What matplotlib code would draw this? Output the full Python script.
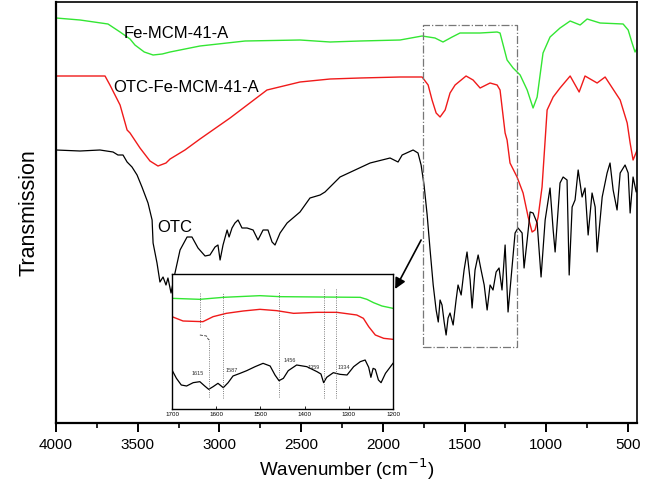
import matplotlib
matplotlib.use("Agg")
import matplotlib.pyplot as plt
from matplotlib.ticker import MultipleLocator

plt.rcParams['font.family'] = ['Liberation Sans', 'DejaVu Sans']

# ---------------- main spectra ----------------
fe_wn = [4000, 3853, 3682, 3608, 3547, 3517, 3460, 3406, 3350, 3302, 3119, 2843, 2507, 2323,
         2140, 1895, 1760, 1681, 1632, 1576, 1528, 1405, 1301, 1283, 1240, 1203, 1160, 1117,
         1081, 1056, 1020, 977, 916, 854, 793, 750, 671, 530, 499, 475, 457, 444]
fe_t = [405, 403, 399, 391, 384, 378, 371, 368, 369, 371, 377, 382, 383, 381,
        382, 383, 387, 385, 381, 386, 390, 390, 391, 390, 363, 355, 348, 333,
        315, 326, 370, 386, 395, 402, 398, 404, 400, 399, 393, 380, 371, 375]

otcfe_wn = [4000, 3700, 3670, 3608, 3565, 3547, 3486, 3425, 3376, 3327, 3302, 3211, 3119, 2935,
            2709, 2507, 2323, 2140, 1895, 1760, 1723, 1699, 1674, 1650, 1619, 1589, 1558,
            1491, 1448, 1405, 1344, 1301, 1283, 1252, 1240, 1222, 1179, 1142, 1111, 1087,
            1069, 1050, 1026, 1007, 995, 958, 916, 854, 799, 763, 689, 640, 548, 505, 487,
            469, 444]
otcfe_t = [347, 347, 338, 318, 293, 290, 275, 262, 257, 260, 264, 273, 284, 305,
           333, 341, 344, 345, 346, 346, 338, 323, 310, 306, 313, 330, 338,
           347, 343, 335, 340, 338, 333, 290, 283, 260, 246, 230, 206, 191,
           193, 206, 236, 283, 313, 326, 335, 347, 331, 347, 340, 346, 323, 300, 280,
           263, 273]

otc_wn = [4000, 3853, 3731, 3651, 3621, 3590, 3565, 3535, 3504, 3474, 3437, 3412, 3406, 3382,
          3364, 3345, 3327, 3315, 3296, 3272, 3241, 3198, 3168, 3131, 3088, 3058, 3027, 3009,
          2996, 2978, 2953, 2941, 2923, 2905, 2886, 2862, 2831, 2794, 2764, 2733, 2703, 2678,
          2660, 2629, 2586, 2550, 2507, 2446, 2384, 2354, 2262, 2170, 2078, 1956, 1907, 1882,
          1815, 1785, 1766, 1748, 1729, 1711, 1692, 1674, 1661, 1650, 1638, 1625, 1613, 1601,
          1589, 1570, 1552, 1540, 1521, 1503, 1485, 1466, 1454, 1436, 1417, 1399, 1380, 1362,
          1344, 1326, 1307, 1289, 1271, 1252, 1234, 1222, 1191, 1173, 1148, 1136, 1117, 1099,
          1081, 1056, 1032, 1007, 977, 958, 946, 916, 897, 873, 860, 842, 824, 805,
          781, 763, 744, 720, 701, 689, 658, 628, 610, 591, 567, 548, 518, 499,
          487, 469, 450, 444]
otc_t = [273, 272, 273, 271, 268, 268, 261, 256, 248, 236, 220, 203, 180, 160,
         141, 146, 138, 145, 130, 150, 173, 186, 186, 175, 167, 168, 176, 178,
         163, 178, 193, 186, 195, 200, 203, 195, 195, 193, 183, 193, 193, 181,
         178, 190, 200, 205, 211, 225, 228, 231, 246, 253, 260, 265, 261, 268,
         273, 270, 258, 238, 208, 173, 138, 113, 101, 123, 118, 101, 88, 105,
         110, 98, 123, 138, 128, 153, 171, 143, 115, 153, 168, 153, 138, 113,
         138, 133, 151, 155, 133, 178, 111, 133, 190, 195, 190, 155, 183, 211,
         210, 200, 146, 203, 235, 193, 171, 240, 246, 243, 148, 216, 223, 253,
         226, 235, 188, 230, 216, 171, 226, 250, 260, 233, 213, 250, 258, 250,
         210, 246, 231, 233]

labels = ["Fe-MCM-41-A", "OTC-Fe-MCM-41-A", "OTC"]
label_wn = [3584, 3651, 3382]
label_t = [390, 335, 195]

# dashed selection box (wavenumber range and transmission range)
box_wn = [1754, 1179]
box_t = [76, 398]

# ---------------- inset (1700-1200 cm-1) ----------------
in_fe_wn = [1700, 1637, 1584, 1501, 1456, 1274, 1259, 1244, 1225, 1200]
in_fe_t = [332, 329, 335, 340, 337, 335, 329, 319, 309, 302]
in_otcfe_wn = [1700, 1675, 1630, 1607, 1577, 1539, 1501, 1463, 1425, 1372, 1327, 1282, 1267,
               1255, 1240, 1221, 1200]
in_otcfe_t = [277, 264, 262, 277, 287, 294, 299, 295, 287, 290, 290, 282, 272,
              247, 222, 212, 209]
in_otc_wn = [1700, 1690, 1679, 1667, 1652, 1637, 1626, 1617, 1607, 1596, 1584, 1573, 1562,
             1546, 1531, 1512, 1494, 1478, 1467, 1458, 1448, 1437, 1418, 1395, 1372, 1363,
             1357, 1350, 1335, 1320, 1304, 1289, 1274, 1263, 1255, 1250, 1245, 1240, 1233,
             1227, 1217, 1200]
in_otc_t = [117, 92, 72, 69, 79, 82, 69, 59, 67, 77, 64, 79, 99,
            107, 115, 127, 137, 129, 102, 85, 92, 115, 132, 127, 112, 105,
            79, 95, 109, 104, 102, 127, 142, 147, 125, 95, 122, 119, 87,
            79, 107, 137]

marker_wn = [1636, 1617, 1584, 1458, 1357, 1329]
marker_lo = [247, 37, 32, 37, 32, 32]
marker_hi = [352, 209, 352, 352, 362, 362]
peak_labels = ["1615", "1587", "1456", "1359", "1334"]
peak_wn = [1641, 1564, 1433, 1380, 1312]
peak_t = [107, 117, 145, 125, 125]
inset_ticks = [1700, 1600, 1500, 1400, 1300, 1200]

GREEN = "#33e633"
RED = "#f01a1a"

fig = plt.figure(figsize=(6.45, 4.97), dpi=100)
ax = fig.add_axes([56/645, 74/497, 581/645, 421/497])
ax.plot(fe_wn, fe_t, color=GREEN, lw=1.0)
ax.plot(otcfe_wn, otcfe_t, color=RED, lw=1.0)
ax.plot(otc_wn, otc_t, color="black", lw=0.9)
ax.set_xlim(4000, 445)
ax.set_ylim(0, 421)
ax.xaxis.set_major_locator(MultipleLocator(500))
ax.xaxis.set_minor_locator(MultipleLocator(250))
ax.set_yticks([])
ax.tick_params(axis='x', which='major', direction='out', length=6.5, width=1.4,
               labelsize=11, pad=4.5)
ax.tick_params(axis='x', which='minor', direction='out', length=3.6, width=1.2)
for side in ['left', 'bottom']:
    ax.spines[side].set_linewidth(1.6)
for side in ['top', 'right']:
    ax.spines[side].set_linewidth(1.2)
ax.set_xlabel("Wavenumber (cm$^{-1}$)", fontsize=13.5, labelpad=3)
ax.set_ylabel("Transmission", fontsize=15.5, labelpad=12)

for lab, x, y in zip(labels, label_wn, label_t):
    ax.text(x, y, lab, fontsize=12, ha='left', va='center')

ax.plot([box_wn[0], box_wn[1], box_wn[1], box_wn[0], box_wn[0]],
        [box_t[0], box_t[0], box_t[1], box_t[1], box_t[0]],
        color="#777777", lw=0.9, ls='-.')

ax.annotate("", xy=(1925, 134), xytext=(1766, 183),
            arrowprops=dict(arrowstyle='-|>', color='black', lw=1.2,
                            mutation_scale=16, shrinkA=0, shrinkB=0))

# inset
ins = fig.add_axes([172/645, 88/497, 221/645, 135/497])
ins.plot(in_fe_wn, in_fe_t, color=GREEN, lw=1.0)
ins.plot(in_otcfe_wn, in_otcfe_t, color=RED, lw=1.0)
ins.plot(in_otc_wn, in_otc_t, color="black", lw=0.9)
for w, lo, hi in zip(marker_wn, marker_lo, marker_hi):
    ins.plot([w, w], [lo, hi], color="#555555", lw=0.6, ls=':')
ins.plot([1637, 1622, 1617], [222, 219, 207], color="#333333", lw=0.6, ls='--')
for lab, x, y in zip(peak_labels, peak_wn, peak_t):
    ins.text(x, y, lab, fontsize=4, ha='center', va='center', color="#333333")
ins.set_xlim(1700, 1200)
ins.set_ylim(0, 405)
ins.set_xticks(inset_ticks)
ins.set_xticklabels([str(t) for t in inset_ticks])
ins.set_yticks([])
ins.tick_params(axis='x', direction='in', length=2, width=0.6, labelsize=4.5, pad=2)
for s in ins.spines.values():
    s.set_linewidth(1.0)

fig.savefig("out.png", dpi=100)
